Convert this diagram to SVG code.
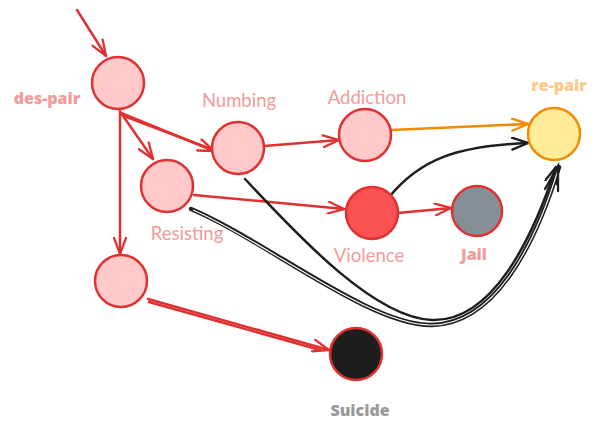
<svg xmlns="http://www.w3.org/2000/svg" width="598" height="431" viewBox="0 0 598 431">
<style>
.node{stroke:#e03131;stroke-width:2.5}
.pink{fill:#ffc9c9}
.lbl{font-family:Lato,"Open Sans",sans-serif;font-size:18.5px;fill:#f29a9a}
.bold{font-family:"Open Sans","Noto Sans",sans-serif;font-weight:800;font-size:16px}
.red{fill:none;stroke:#e03131;stroke-width:2.5;stroke-linecap:round}
.blk{fill:none;stroke:#1e1e1e;stroke-width:2.5;stroke-linecap:round}
.org{fill:none;stroke:#f08c00;stroke-width:2.5;stroke-linecap:round}
</style>
<defs>
<marker id="ar" viewBox="0 0 18 14" refX="17" refY="7" markerWidth="18" markerHeight="14" markerUnits="userSpaceOnUse" orient="auto">
<path d="M1,1 L17,7 L1,13" fill="none" stroke="#e03131" stroke-width="2.3" stroke-linecap="round"/>
</marker>
<marker id="ab" viewBox="0 0 18 14" refX="17" refY="7" markerWidth="18" markerHeight="14" markerUnits="userSpaceOnUse" orient="auto">
<path d="M1,1 L17,7 L1,13" fill="none" stroke="#1e1e1e" stroke-width="2.3" stroke-linecap="round"/>
</marker>
<marker id="ao" viewBox="0 0 18 14" refX="17" refY="7" markerWidth="18" markerHeight="14" markerUnits="userSpaceOnUse" orient="auto">
<path d="M1,1 L17,7 L1,13" fill="none" stroke="#f08c00" stroke-width="2.3" stroke-linecap="round"/>
</marker>
</defs>
<g id="connectors">
<path class="red" d="M77,10 L106,56" marker-end="url(#ar)"/>
<path class="red" d="M121,113 L214,151" marker-end="url(#ar)"/>
<path class="red" d="M124,116 L211,149" stroke-width="1.2"/>
<path class="red" d="M121,113 L153,159" marker-end="url(#ar)"/>
<path class="red" d="M120,110 L120,254" marker-end="url(#ar)"/>
<path class="red" d="M264,146 L339,140" marker-end="url(#ar)"/>
<path class="red" d="M194,195 L344,209" marker-end="url(#ar)"/>
<path class="red" d="M398,213 L451,208" marker-end="url(#ar)"/>
<path class="red" d="M148,299 L329,350" marker-end="url(#ar)"/>
<path class="red" d="M149,302 L320,350" stroke-width="1.2"/>
<path class="org" d="M391,130 L528,124" marker-end="url(#ao)"/>
<path class="blk" d="M390,196 C420,160 455,146 528,143" marker-end="url(#ab)"/>
<path class="blk" d="M245,179 C300,238 375,318 432,320 C492,322 532,240 556,167" marker-end="url(#ab)"/>
<path d="M191,209 C265,240 370,326 432,325 C495,324 535,245 559,167" fill="none" stroke="#1e1e1e" stroke-width="4.4" stroke-linecap="round"/>
<path d="M193,210 C265,241 370,326 432,325 C495,324 535,245 558,170" fill="none" stroke="#fff" stroke-width="1.1"/>
<path d="M545,189 L558,166 L558,191" fill="none" stroke="#1e1e1e" stroke-width="2.3" stroke-linecap="round"/>
</g>
<g id="des-pair">
<circle class="node pink" cx="118" cy="83" r="26"/>
<text class="bold" x="47" y="104" text-anchor="middle" fill="#f29a9a" font-size="17">des-pair</text>
</g>
<g id="numbing">
<circle class="node pink" cx="238" cy="148" r="26"/>
<text class="lbl" x="239" y="107" text-anchor="middle">Numbing</text>
</g>
<g id="resisting">
<circle class="node pink" cx="167" cy="186" r="26"/>
<text class="lbl" x="187" y="240" text-anchor="middle">Resisting</text>
</g>
<g id="despair-branch">
<circle class="node pink" cx="121" cy="281" r="26"/>
</g>
<g id="addiction">
<circle class="node pink" cx="365" cy="135" r="26"/>
<text class="lbl" x="367" y="104" text-anchor="middle">Addiction</text>
</g>
<g id="violence">
<circle class="node" fill="#fa5252" cx="372" cy="213" r="26"/>
<text class="lbl" x="369" y="262" text-anchor="middle">Violence</text>
</g>
<g id="jail">
<circle class="node" fill="#868e96" cx="477" cy="211" r="25"/>
<text class="bold" x="474" y="260" text-anchor="middle" fill="#f29a9a">Jail</text>
</g>
<g id="re-pair">
<circle cx="554" cy="134" r="26" fill="#ffec99" stroke="#f08c00" stroke-width="2.5"/>
<text class="bold" x="559" y="91" text-anchor="middle" fill="#fcc98a">re-pair</text>
</g>
<g id="suicide">
<circle class="node" fill="#1e1e1e" cx="356" cy="354" r="26"/>
<text class="bold" x="360" y="416" text-anchor="middle" fill="#999999">Suicide</text>
</g>
</svg>
